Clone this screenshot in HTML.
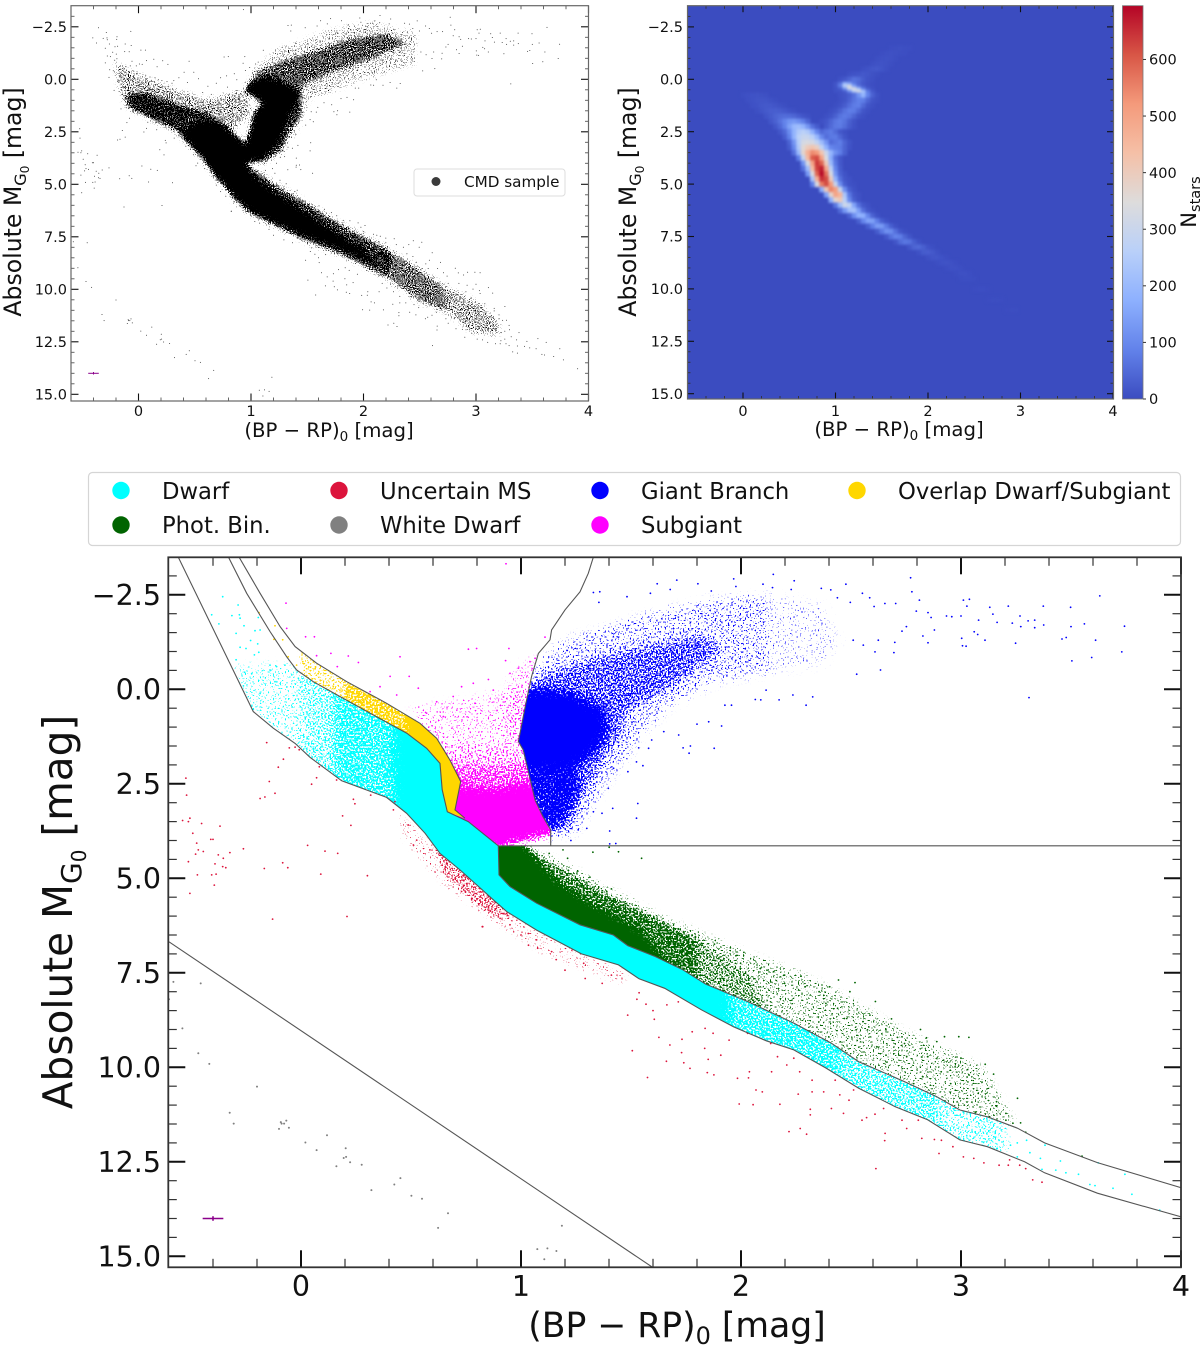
<!DOCTYPE html>
<html lang="en">
<head>
<meta charset="utf-8">
<title>Colour-magnitude diagrams</title>
<style>
html,body{margin:0;padding:0;background:#fff;}
svg{display:block;font-family:"DejaVu Sans","Liberation Sans",sans-serif;}
</style>
</head>
<body>
<svg id="fig" xmlns="http://www.w3.org/2000/svg" width="1200" height="1348" viewBox="0 0 1200 1348">
<defs id="defs">
<filter id="heatBlur" x="0" y="0" width="1200" height="500" filterUnits="userSpaceOnUse" color-interpolation-filters="sRGB"><feGaussianBlur stdDeviation="1.4"/></filter>
<clipPath id="clipA"><rect x="71" y="5.7" width="517.5" height="395.3"/></clipPath>
<clipPath id="clipB"><rect x="687.5" y="5.7" width="425.5" height="393.3"/></clipPath>
<clipPath id="clipC"><rect x="168.3" y="557.3" width="1012.7" height="710"/></clipPath>
<linearGradient id="cbarGrad" x1="0" y1="1" x2="0" y2="0">
<stop offset="0" stop-color="#3b4cc0"/><stop offset="0.125" stop-color="#6282ea"/><stop offset="0.25" stop-color="#8db0fe"/><stop offset="0.375" stop-color="#b9d0f9"/><stop offset="0.5" stop-color="#dddcdc"/><stop offset="0.625" stop-color="#f5c0a7"/><stop offset="0.75" stop-color="#f49a7b"/><stop offset="0.875" stop-color="#d85646"/><stop offset="1" stop-color="#b40426"/>
</linearGradient>
</defs>

<rect x="0" y="0" width="1200" height="1348" fill="#fff"/>

<g id="panelA"></g>
<g id="panelB"></g>
<g id="panelC"></g>

<!-- panel A labels -->
<text transform="rotate(-90 21 202)" x="21" y="202" text-anchor="middle" font-size="23.6" fill="#111">Absolute M<tspan dy="5" font-size="16">G</tspan><tspan dy="3" font-size="12">0</tspan><tspan dy="-8"> [mag]</tspan></text>
<text x="329" y="437" text-anchor="middle" font-size="19.7" fill="#111">(BP − RP)<tspan dy="4" font-size="13.5">0</tspan><tspan dy="-4"> [mag]</tspan></text>
<g>
<rect x="414" y="169" width="151" height="27" rx="3" fill="#fff" stroke="#ddd" stroke-width="1"/>
<circle cx="436" cy="181.5" r="4.5" fill="#3a3a3a"/>
<text x="464" y="187" font-size="15.2" fill="#111">CMD sample</text>
</g>

<!-- panel B labels -->
<text transform="rotate(-90 636 202)" x="636" y="202" text-anchor="middle" font-size="23.6" fill="#111">Absolute M<tspan dy="5" font-size="16">G</tspan><tspan dy="3" font-size="12">0</tspan><tspan dy="-8"> [mag]</tspan></text>
<text x="899" y="436" text-anchor="middle" font-size="19.7" fill="#111">(BP − RP)<tspan dy="4" font-size="13.5">0</tspan><tspan dy="-4"> [mag]</tspan></text>
<rect x="1122.5" y="5.7" width="20.5" height="393.3" fill="url(#cbarGrad)" stroke="#777" stroke-width="0.8"/>
<g id="cbarTicks"></g>
<text transform="rotate(-90 1196 202)" x="1196" y="202" text-anchor="middle" font-size="21" fill="#111">N<tspan dy="4" font-size="14.5">stars</tspan></text>

<!-- panel C labels -->
<text transform="rotate(-90 72 912)" x="72" y="912" text-anchor="middle" font-size="40.6" fill="#111">Absolute M<tspan dy="9" font-size="28">G</tspan><tspan dy="5" font-size="20">0</tspan><tspan dy="-14"> [mag]</tspan></text>
<text x="677" y="1337" text-anchor="middle" font-size="34.6" fill="#111">(BP − RP)<tspan dy="7" font-size="24">0</tspan><tspan dy="-7"> [mag]</tspan></text>

<g>
<rect x="88.5" y="472.5" width="1092" height="73" rx="4" fill="#fff" stroke="#d5d5d5" stroke-width="1.2"/>
<g font-size="22.7" fill="#111">
<circle cx="121" cy="490.5" r="8.7" fill="#00ffff"/>
<text x="162" y="499">Dwarf</text>
<circle cx="121" cy="525" r="8.7" fill="#006400"/>
<text x="162" y="533">Phot. Bin.</text>
<circle cx="339" cy="490.5" r="8.7" fill="#dc143c"/>
<text x="380" y="499">Uncertain MS</text>
<circle cx="339" cy="525" r="8.7" fill="#808080"/>
<text x="380" y="533">White Dwarf</text>
<circle cx="600" cy="490.5" r="8.7" fill="#0000ff"/>
<text x="641" y="499">Giant Branch</text>
<circle cx="600" cy="525" r="8.7" fill="#ff00ff"/>
<text x="641" y="533">Subgiant</text>
<circle cx="857" cy="490.5" r="8.7" fill="#ffd700"/>
<text x="898" y="499">Overlap Dwarf/Subgiant</text>
</g>
</g>
</svg>

<script>
/* ---------- axis tick values ---------- */
const xMajorTicks = [0,1,2,3,4];
const xMinorTicks = [-0.4,-0.2,0.2,0.4,0.6,0.8,1.2,1.4,1.6,1.8,2.2,2.4,2.6,2.8,3.2,3.4,3.6,3.8];
const yMajorTicks = [-2.5,0,2.5,5,7.5,10,12.5,15];
const yMinorTicks = [-3,-2,-1.5,-1,-0.5,0.5,1,1.5,2,3,3.5,4,4.5,5.5,6,6.5,7,8,8.5,9,9.5,10.5,11,11.5,12,13,13.5,14,14.5];
const yTickLabels = ["\u22122.5","0.0","2.5","5.0","7.5","10.0","12.5","15.0"];
const colorbarTicks = [0,100,200,300,400,500,600];
const errorBar = {color:-0.4, mag:14, xerr:0.047, yerr:0.06};

/* ---------- boundary lines (colour, magnitude) ---------- */
const lowerBoundary = [[-0.558,-3.5],[-0.217,0.59],[-0.126,1.03],[-0.027,1.43],[0.041,1.8],[0.185,2.42],[0.389,2.86],[0.48,3.28],[0.564,3.81],[0.632,4.34],[0.723,4.78],[0.874,5.57],[0.935,5.88],[1.071,6.37],[1.275,7.0],[1.443,7.29],[1.537,7.66],[1.653,7.91],[1.82,8.48],[1.967,8.93],[2.115,9.3],[2.24,9.54],[2.387,10.02],[2.534,10.55],[2.7,11.04],[2.848,11.39],[2.995,11.92],[3.12,12.1],[3.289,12.5],[3.38,12.79],[3.62,13.33],[4.02,13.99]];
const dwarfUpperBoundary = [[-0.33,-3.5],[-0.247,-2.54],[-0.141,-1.53],[-0.065,-0.86],[-0.02,-0.51],[0.056,-0.2],[0.177,0.19],[0.329,0.68],[0.48,1.16],[0.571,1.56],[0.632,1.96],[0.642,2.66],[0.665,3.24],[0.76,3.5],[0.897,4.14],[0.9,4.91],[0.95,5.22],[1.071,5.66],[1.268,6.23],[1.42,6.5],[1.485,6.78],[1.61,7.07],[1.736,7.42],[1.84,7.8],[2.03,8.26],[2.24,8.83],[2.41,9.36],[2.534,9.85],[2.744,10.38],[2.89,10.78],[2.995,11.13],[3.12,11.31],[3.257,11.61],[3.38,12.0],[3.62,12.52],[4.02,13.22]];
const overlapUpperBoundary = [[-0.282,-3.5],[-0.186,-2.54],[-0.095,-1.66],[-0.027,-1.13],[0.071,-0.69],[0.208,-0.2],[0.389,0.37],[0.541,0.9],[0.617,1.3],[0.677,1.87],[0.726,2.44],[0.7,3.19],[0.745,3.41]];
const giantBoundary = [[1.329,-3.5],[1.306,-3.07],[1.268,-2.58],[1.2,-2.1],[1.139,-1.57],[1.132,-1.31],[1.079,-0.95],[1.048,-0.34],[1.021,0.41],[0.988,1.38],[1.01,1.6],[1.064,2.93],[1.1,3.37],[1.135,3.72],[1.135,4.14]];
const horizontalBoundary = [[0.897,4.14],[4.02,4.14]];
const whiteDwarfBoundary = [[-0.6,6.68],[1.6,15.3]];

/* ---------- density regions, panel C (drawn stippled, clipped to the class boundaries) ---------- */
const cyanSparseRegion = [[-0.3,-0.6],[0,-0.6],[0,2.5],[-0.3,2]];
const cyanFairRegion = [[0,-0.6],[0.15,-0.6],[0.15,3],[0,2.5]];
const cyanMidRegion = [[0.15,-0.4],[0.42,0.3],[0.42,3.5],[0.15,3]];
const cyanCoreRegion = [[0.42,0.3],[0.7,1],[1,4],[1.5,6],[1.95,7.3],[1.95,9.5],[1.5,8.5],[1,7],[0.5,4],[0.42,3.5]];
const cyanDenseRegion = [[1.95,7.3],[2.45,8.8],[2.45,10.7],[1.95,9.5]];
const cyanLowRegion = [[2.45,8.8],[2.9,10],[2.9,12],[2.45,10.7]];
const cyanTailRegion = [[2.9,10],[3.2,11],[3.2,12.7],[2.9,12]];
const goldSparseRegion = [[0,-1.2],[0.2,-0.7],[0.2,0.8],[0,0.2]];
const goldMidRegion = [[0.2,-0.7],[0.48,-0.1],[0.48,1.6],[0.2,0.8]];
const goldCoreRegion = [[0.48,-0.1],[1,0],[1,4.5],[0.48,4.5]];
const magentaSparseRegion = [[0.5,0.5],[0.72,0.3],[0.9,0.1],[1.1,0.1],[1.1,1.5],[0.55,1.5]];
const magentaEdgeRegion = [[0.97,-0.6],[1.1,-0.9],[1.1,1.3],[0.93,1.3],[0.93,0.1]];
const magentaMidRegion = [[0.55,1.5],[1.1,1.5],[1.1,2.0],[0.55,2.0]];
const magentaFairRegion = [[0.55,2.0],[1.1,2.0],[1.1,2.45],[1.026,2.45],[0.874,2.65],[0.72,2.55],[0.55,2.9]];
const magentaCoreRegion = [[0.55,2.9],[0.72,2.55],[0.874,2.65],[1.026,2.45],[1.2,2.6],[1.3,3.6],[1.12,3.85],[1.0,4.03],[0.8,4.3],[0.55,3.6]];
const blueCoreRegion = [[0.85,0.2],[1.113,0.0],[1.23,0.1],[1.38,0.55],[1.39,1.12],[1.34,1.65],[1.23,2.1],[0.85,2.1]];
const blueDenseRegion = [[0.9,1.9],[1.25,2],[1.26,2.62],[1.22,3.15],[1.17,3.6],[1.1,4.0],[0.9,3.5]];
const blueMidRegion = [[1.054,-0.29],[1.191,-0.55],[1.348,-0.82],[1.584,-1.17],[1.82,-1.44],[1.918,-1.08],[1.82,-0.64],[1.682,-0.03],[1.486,0.59],[1.437,1.39],[1.368,1.91],[1.29,2.8],[1.211,3.77],[1.162,3.77],[0.9,0.24]];
const blueSparseRegion = [[1.074,-0.64],[1.191,-1.26],[1.584,-1.97],[1.839,-2.32],[2.12,-2.49],[2.12,-0.47],[1.878,-0.2],[1.682,0.42],[1.564,1.03],[1.486,1.74],[1.368,2.62],[1.29,3.41],[1.23,3.85],[1.162,3.77],[1.054,-0.29]];
const blueFarRegion = [[2.12,-2.5],[2.369,-2.23],[2.448,-1.35],[2.369,-0.64],[2.12,-0.47]];
const greenCoreRegion = [[0.85,4],[1.0,4],[1.15,5],[1.3,5.6],[1.55,6.4],[1.7,7.5],[1.0,6.5],[0.85,5]];
const greenDenseRegion = [[1.0,4.1],[1.35,5.3],[1.8,6.6],[1.8,8],[1.2,6]];
const greenMidRegion = [[1.8,6.6],[2.05,7.6],[2.15,8.8],[1.8,8]];
const greenSparseRegion = [[1.1,4.3],[1.6,5.9],[2.0,6.9],[2.35,7.7],[2.7,8.9],[3.1,10],[3.25,11.5],[2.8,11],[2.2,9.2],[1.7,7.5]];
const redFringeRegion = [[0.45,3.3],[0.72,4.78],[0.94,5.88],[1.3,7.05],[1.5,7.55],[1.45,7.8],[1.1,7],[0.88,6.2],[0.65,5.2],[0.45,3.9]];
const redEdgeRegion = [[0.6,4.0],[0.9,5.6],[0.98,6.1],[0.85,5.95],[0.65,4.9]];

/* ---------- density regions, panel A ---------- */
const sampleCoreRegion = [[0.36,2.58],[0.53,2.0],[0.7,2.0],[0.83,2.5],[0.95,3.06],[1.0,2.2],[1.02,1.62],[1.1,1.15],[0.96,0.6],[0.95,0.35],[1.03,-0.05],[1.17,-0.1],[1.32,0.2],[1.46,0.7],[1.38,1.3],[1.3,2.26],[1.23,3.22],[1.094,3.85],[0.957,4.01],[1.026,4.65],[1.231,5.45],[1.504,6.4],[1.778,7.36],[1.983,8.07],[2.15,8.85],[2.051,8.71],[1.778,8.07],[1.504,7.52],[1.231,6.88],[0.991,6.24],[0.821,5.45],[0.684,4.65],[0.581,3.85],[0.444,3.06]];
const sampleUpperMsRegion = [[-0.103,0.75],[0.068,0.67],[0.376,1.31],[0.615,1.62],[0.821,2.5],[0.376,2.58],[0.137,1.94],[-0.103,1.31]];
const sampleHaloRegion = [[-0.205,-0.76],[-0.034,-0.29],[0.274,0.43],[0.615,0.99],[0.957,0.48],[0.991,1.62],[0.821,2.5],[0.615,1.62],[0.137,1.94],[-0.137,0.99],[-0.171,0.35]];
const sampleRgbHaloRegion = [[0.95,3.6],[1.0,2.4],[1.05,1.5],[1.45,1.0],[1.45,1.7],[1.33,2.6],[1.28,3.4],[1.1,4.0]];
const sampleGiantRegion = [[0.991,-0.21],[1.299,-0.92],[1.607,-1.4],[1.846,-1.88],[2.188,-2.2],[2.393,-1.72],[2.051,-0.92],[1.778,-0.45],[1.504,0.19],[1.402,0.67],[1.162,0.03]];
const sampleGiantHaloRegion = [[0.991,-0.21],[1.231,-1.4],[1.709,-2.36],[2.051,-2.68],[2.462,-2.2],[2.462,-0.76],[2.017,-0.05],[1.504,0.99],[1.402,2.58],[1.265,3.22],[1.197,3.22],[1.436,0.75]];
const sampleMsRegion = [[0.957,4.01],[1.162,4.81],[1.504,5.92],[1.846,7.04],[2.188,7.99],[2.25,8.6],[2.188,9.4],[1.778,8.3],[1.504,7.75],[1.231,7.05],[0.991,6.4],[0.821,5.6]];
const sampleMsMidRegion = [[2.188,7.99],[2.462,8.9],[2.7,9.8],[2.75,11.1],[2.5,10.6],[2.188,9.4]];
const sampleLowMsRegion = [[2.7,9.8],[3.0,10.6],[3.2,11.5],[3.2,12.2],[2.95,12],[2.75,11.1]];

/* ---------- individually read stars (colour, magnitude) ---------- */
const whiteDwarfStars = [[-0.58,7.74],[-0.456,7.78],[-0.6,8.2],[-0.539,8.97],[-0.467,9.63],[-0.417,9.91],[-0.2,10.51],[-0.324,11.2],[-0.306,11.49],[-0.092,11.45],[-0.088,11.49],[-0.077,11.49],[-0.067,11.41],[-0.055,11.6],[-0.1,11.63],[0.02,11.99],[0.071,12.19],[0.118,11.8],[0.203,12.14],[0.205,12.37],[0.194,12.4],[0.223,12.51],[0.161,12.62],[0.276,12.58],[0.452,12.93],[0.424,13.1],[0.32,13.25],[0.502,13.4],[0.55,13.48],[0.668,13.86],[0.623,14.25],[1.186,14.19],[1.074,14.81],[1.12,14.79],[1.161,14.86],[1.106,15.08]];
const uncertainStars = [[-0.523,2.35],[-0.52,2.8],[-0.538,3.47],[-0.505,3.41],[-0.512,3.5],[-0.452,3.55],[-0.492,3.81],[-0.368,3.62],[-0.474,4.07],[-0.467,4.25],[-0.479,4.36],[-0.444,4.29],[-0.41,3.97],[-0.4,3.97],[-0.323,4.32],[-0.262,4.22],[-0.512,4.56],[-0.376,4.38],[-0.353,4.47],[-0.391,4.62],[-0.356,4.69],[-0.342,4.72],[-0.471,4.91],[-0.406,4.91],[-0.386,4.89],[-0.394,5.18],[-0.505,5.4],[-0.167,4.74],[-0.083,4.59],[-0.06,4.72],[0.09,4.89],[0.109,4.28],[0.167,4.34],[0.03,4.13],[0.302,4.93],[-0.129,6.08],[0.209,6.01],[0.826,6.28],[-0.156,1.41],[-0.053,1.55],[-0.027,1.53],[-0.008,1.6],[-0.08,1.85],[-0.103,2.06],[-0.144,2.44],[-0.186,2.89],[-0.164,2.85],[-0.118,2.75],[0.071,2.34],[0.048,2.51],[0.083,2.05],[0.162,2.4],[0.189,3.35],[0.227,3.6],[0.238,2.91],[0.245,3.03],[0.317,2.8],[0.42,3.19],[0.427,2.97],[0.488,3.59],[0.511,4.12],[0.526,3.99],[0.586,4.25],[0.647,4.43],[0.662,4.6],[0.692,5.04],[0.73,4.96],[0.73,5.35],[0.776,5.57],[0.852,5.49],[0.852,5.84],[0.905,6.06],[0.95,6.23],[1.033,6.46],[1.071,6.63],[0.824,6.28],[0.897,6.02],[1.0,6.5],[1.034,6.77],[1.076,6.85],[1.139,6.94],[1.16,7.15],[1.2,7.43],[1.292,7.65],[1.285,7.25],[1.369,7.78],[1.411,7.56],[1.485,8.62],[1.527,8.2],[1.537,8.03],[1.568,8.33],[1.6,8.5],[1.606,8.73],[1.663,8.35],[1.715,8.27],[1.506,9.56],[1.627,9.21],[1.575,10.27],[1.661,9.84],[1.677,9.41],[1.732,9.26],[1.73,9.61],[1.74,9.88],[1.768,10.03],[1.778,9.06],[1.837,8.97],[1.835,9.5],[1.851,9.79],[1.873,9.1],[1.908,9.68],[1.946,9.28],[1.847,10.14],[1.877,10.2],[1.984,10.29],[2.038,10.12],[2.034,10.28],[2.068,10.6],[2.097,10.65],[1.992,10.97],[2.055,10.99],[2.177,10.98],[2.03,9.1],[2.135,9.37],[2.166,9.72],[2.24,9.76],[2.208,9.94],[2.139,10.12],[2.267,10.12],[2.323,10.34],[2.323,10.65],[2.26,10.71],[2.315,11.11],[2.315,11.26],[2.218,11.7],[2.269,11.62],[2.298,11.77],[2.376,10.65],[2.449,10.73],[2.491,10.87],[2.411,11.09],[2.466,11.22],[2.428,10.34],[2.512,10.6],[2.55,11.4],[2.571,11.33],[2.609,11.24],[2.648,11.09],[2.655,11.75],[2.653,11.94],[2.613,12.68],[2.732,11.4],[2.753,11.62],[2.806,11.4],[2.822,11.88],[2.879,11.91],[2.911,11.93],[2.9,12.28],[2.963,12.1],[3.011,12.37],[3.058,12.41],[3.104,12.53],[3.173,12.59],[3.221,12.45],[3.215,12.59],[3.267,12.59],[3.294,12.68],[3.326,12.98],[3.368,13.04]];
const binaryStars = [[1.548,4.47],[1.401,4.18],[1.443,4.3],[1.327,4.31],[1.212,4.47],[1.128,4.34],[1.191,4.25],[1.258,4.81],[1.313,4.97],[1.411,5.28],[1.39,5.35],[1.474,5.8],[1.548,5.97],[1.604,6.03],[1.652,6.19],[1.715,6.35],[1.762,6.5],[1.82,6.72],[1.879,6.74],[1.952,6.84],[2.013,6.96],[1.977,7.05],[1.998,7.25],[2.089,7.38],[2.118,7.43],[2.149,7.47],[2.198,7.56],[2.273,7.59],[2.135,7.74],[2.198,7.78],[2.292,7.87],[2.355,8.0],[2.443,7.69],[2.518,7.76],[2.403,7.87],[2.495,8.0],[2.386,8.31],[2.439,8.44],[2.611,8.26],[2.586,8.62],[2.684,8.72],[2.554,8.79],[2.47,8.71],[2.523,9.01],[2.575,9.01],[2.659,9.01],[2.711,9.21],[2.816,9.0],[2.843,9.22],[2.89,9.32],[2.925,9.19],[2.99,9.19],[3.036,9.21],[2.743,9.37],[2.617,9.46],[2.659,9.68],[2.753,9.72],[2.848,9.72],[2.921,9.81],[3.0,9.76],[3.11,9.92],[3.03,10.06],[3.148,10.18],[2.91,10.12],[2.973,9.99],[3.036,10.2],[2.827,10.25],[2.953,10.43],[2.785,10.43],[3.078,10.69],[3.162,10.91],[3.162,11.03],[3.257,10.82],[3.204,11.22],[2.995,10.82],[3.015,11.0],[3.068,11.18],[3.13,11.31],[3.204,11.4],[3.236,11.48],[3.271,11.47],[3.294,11.72],[3.55,12.35]];
const giantStars = [[1.329,-2.56],[1.358,-2.58],[1.354,-2.3],[1.482,-2.45],[1.588,-2.54],[1.619,-2.79],[1.678,-2.64],[1.708,-2.89],[1.804,-2.79],[1.865,-2.6],[1.967,-2.92],[1.977,-2.72],[2.1,-2.78],[2.147,-3.04],[2.143,-2.69],[2.242,-2.87],[2.228,-2.64],[2.365,-2.67],[2.408,-2.63],[2.477,-2.78],[2.552,-2.54],[2.585,-2.42],[2.771,-2.95],[2.777,-2.58],[2.811,-2.36],[2.703,-2.27],[2.654,-2.27],[2.605,-2.19],[2.497,-2.3],[2.438,-2.42],[2.797,-2.07],[2.85,-2.03],[2.864,-1.9],[2.934,-1.94],[2.958,-1.92],[3.011,-2.36],[3.038,-2.38],[3.027,-2.2],[3.0,-1.94],[3.08,-1.83],[3.131,-2.17],[3.145,-1.99],[3.164,-1.77],[3.215,-2.2],[3.268,-1.94],[3.233,-1.75],[3.272,-1.66],[3.305,-1.81],[3.335,-1.83],[3.335,-1.63],[3.376,-1.7],[3.374,-2.2],[3.498,-2.17],[3.5,-1.66],[3.561,-1.73],[3.631,-2.47],[3.743,-1.67],[3.612,-1.3],[3.478,-1.37],[3.459,-1.33],[3.248,-1.22],[3.109,-1.3],[3.076,-1.45],[3.06,-1.52],[3.003,-1.35],[3.007,-1.15],[3.023,-1.14],[2.879,-1.57],[2.85,-1.23],[2.827,-1.41],[2.752,-1.66],[2.732,-1.54],[2.699,-1.24],[2.695,-0.97],[2.624,-1.3],[2.609,-0.99],[2.634,-0.51],[2.526,-0.4],[2.556,-1.17],[2.51,-1.3],[3.731,-0.99],[3.594,-0.84],[3.504,-0.75],[3.309,0.22],[2.326,0.2],[2.296,0.42],[2.236,0.15],[2.173,0.28],[2.09,0.28],[2.065,0.27],[2.114,0.02],[1.957,0.42],[1.927,0.42],[1.912,0.97],[1.853,0.86],[1.8,0.92],[1.878,1.56],[1.77,1.5],[1.737,1.55],[1.764,1.69],[1.717,1.21],[1.649,1.12],[1.594,1.34],[1.535,1.55],[1.58,1.56],[1.525,1.92],[1.554,2.02],[1.486,2.18],[1.421,2.09],[1.397,2.62],[1.531,3.02],[1.525,3.41],[1.417,3.15],[1.368,3.28],[1.329,3.24],[1.299,3.68],[1.403,3.75],[1.26,3.72],[1.227,4.0],[1.403,4.09],[1.431,4.08]];
const subgiantStars = [[0.932,-3.32],[-0.068,-2.28],[-0.065,-1.61],[0.021,-1.39],[0.061,-1.39],[0.071,-0.89],[0.136,-0.95],[0.215,-0.88],[0.165,-0.6],[0.261,-0.71],[0.45,-0.86],[0.405,-0.34],[0.492,-0.34],[0.761,-1.06],[0.798,-1.08],[0.945,-1.08],[0.93,-0.76],[0.73,-0.07],[0.783,-0.16],[0.852,-0.26],[0.533,-0.03],[0.435,0.15],[0.314,0.06],[0.359,-0.07],[0.617,0.33],[0.571,0.63],[0.647,0.72],[1.109,-1.38],[1.041,-0.73],[1.064,-0.82],[0.95,-0.42],[0.988,-0.56],[0.692,0.19],[0.791,0.37],[0.874,0.02]];
const dwarfStars = [[-0.356,-2.45],[-0.286,-2.23],[-0.406,-1.97],[-0.373,-1.73],[-0.314,-1.95],[-0.28,-1.97],[-0.277,-1.88],[-0.194,-1.9],[-0.295,-1.48],[-0.259,-1.68],[-0.209,-1.55],[-0.186,-1.57],[-0.229,-1.29],[-0.277,-1.11],[-0.25,-1.08],[-0.197,-1.2],[-0.192,-0.98],[-0.212,-0.91],[-0.295,-0.78],[-0.256,-0.45],[-0.224,-0.41],[-0.262,-0.09],[-0.186,0.11],[-0.141,-0.64],[-0.111,-0.6],[-0.073,-0.64],[-0.141,-0.51],[-0.118,-0.2],[-0.042,-0.38],[-0.012,-0.29],[-0.217,0.53],[3.183,11.66],[3.173,11.93],[3.225,12.06],[3.256,12.0],[3.298,11.93],[3.382,12.06],[3.313,12.26],[3.361,12.41],[3.256,12.37],[3.452,12.48],[3.368,12.7],[3.431,12.72],[3.477,12.79],[3.534,12.83],[3.624,12.53],[3.745,12.83],[3.586,13.1],[3.609,13.13],[3.691,13.2],[3.777,13.36],[3.903,13.78]];
const overlapStars = [[-0.191,-2.03],[-0.118,-1.68],[-0.083,-1.31],[-0.123,-1.32],[-0.058,-0.86],[0.033,-0.71],[-0.02,-0.64],[0.008,-0.73],[0.064,-0.19],[0.102,-0.11],[0.147,-0.07],[0.177,0.02],[0.208,0.06],[0.253,0.11],[0.268,0.33],[0.298,0.19]];

/* ---------- density histogram: magnitude, first colour, counts in 0.05 colour bins ---------- */
const heatRowMags = [-1.5,-1.25,-1,-0.75,-0.5,-0.25,0,0.25,0.375,0.5,0.625,0.75,0.75,1,1,1.25,1.25,1.5,1.5,1.75,1.75,2,2,2.25,2.25,2.5,2.75,3,3.25,3.5,3.75,4,4.25,4.5,4.75,5,5.25,5.5,5.75,6,6.25,6.5,6.75,7,7.25,7.5,7.75,8,8.25,8.5,8.75,9,9.25,9.5,10,10.5,11];
const heatRowStarts = [1.6,1.5,1.45,1.4,1.3,1.15,1.05,1.0,1.0,1.0,1.05,1.05,0,1.05,0.05,1.0,0.1,0.95,0.15,0.9,0.25,0.85,0.3,0.9,0.35,0.4,0.45,0.5,0.5,0.55,0.6,0.65,0.65,0.7,0.75,0.75,0.85,0.9,0.95,1.0,1.05,1.15,1.25,1.35,1.45,1.55,1.65,1.8,1.9,2.0,2.1,2.2,2.3,2.35,2.5,2.65,2.85];
const heatRowCounts = [[4,5,6,5,4],[4,6,8,6,5,4],[5,8,10,8,5],[6,10,12,9,5],[6,12,18,20,14,6],[8,12,15,20,16,9,5],[10,20,40,60,50,25,12,6],[15,60,190,150,70,40,18,8,4],[15,80,270,330,150,60,25,8],[10,30,130,320,340,220,80,25,8],[12,30,120,270,340,230,75,20],[8,15,30,60,120,190,90,35,10],[5,8,10,11,9,6],[6,14,35,65,85,80,42,15,6],[6,10,14,15,14,9,5],[5,12,28,55,78,82,46,16,6],[8,12,18,21,20,15,9,5],[6,14,34,62,80,76,45,16,6],[7,14,22,28,30,26,20,12,6],[6,14,34,62,76,66,40,14,6],[14,25,38,48,52,50,42,28,15,8],[8,18,42,68,80,62,32,12],[18,35,60,90,120,130,110,80,40],[22,48,72,75,54,26,10],[18,45,85,145,195,210,185,125,60,25],[18,45,105,185,245,265,245,175,95,46,64,75,50,20,8],[28,85,185,265,295,295,265,195,100,55,72,76,44,14],[38,125,255,325,335,325,275,205,125,50,66,80,40,14],[25,100,240,360,400,420,390,280,180,95,80,74,38,12],[60,200,370,470,540,520,420,300,190,115,80,34],[80,280,450,600,620,500,340,170,55,18],[120,330,500,640,590,400,200,70,20],[60,210,440,630,670,490,270,90,25],[130,340,590,690,570,330,120,35,12],[230,470,650,620,400,180,60,18,8],[80,330,560,620,520,290,110,30,10,5],[170,410,550,510,290,110,30,10],[150,370,500,460,230,70,20,8],[180,370,410,260,100,30,10],[70,200,310,280,150,60,20,8],[50,130,215,225,140,55,18,6],[35,110,180,175,95,35,10],[32,95,150,145,80,30,10],[30,80,135,130,75,30,8],[25,70,115,105,55,18,5],[20,60,90,80,40,14],[15,50,70,62,30,10],[18,40,48,32,12,5],[10,25,28,20,8],[8,15,16,10,4],[5,10,11,8,4],[4,8,8,5],[3,6,6,4],[3,5,5,3],[2,4,4,2],[2,3,3,2],[2,3,3]];
const heatColorStep = 0.05;
const heatMagStep = 0.25;
const heatMax = 695;

/* ---------- axis functions ---------- */
const xA = c => 138.5 + 112.5 * c;
const yA = m => 79.3 + 21 * m;
const xB = c => 743 + 92.5 * c;
const yB = m => 79.3 + 20.96 * m;
const xC = c => 301 + 220 * c;
const yC = m => 689.3 + 37.8 * m;
const yCbar = v => 399 - 393.3 * v / heatMax;

const SVG_NS = 'http://www.w3.org/2000/svg';
function mk(tag, parent) {
  const el = document.createElementNS(SVG_NS, tag);
  parent.appendChild(el);
  return el;
}
function pointList(pts, xf, yf) {
  return pts.map(p => xf(p[0]).toFixed(1) + ',' + yf(p[1]).toFixed(1)).join(' ');
}

/* stipple texture: density of specks follows the blurred alpha of the region group */
function stippleFilter(id, color, blur, freq, seed, x, y, w, h) {
  document.getElementById('defs').insertAdjacentHTML('beforeend',
    '<filter xmlns="http://www.w3.org/2000/svg" id="' + id + '" filterUnits="userSpaceOnUse" x="' + x + '" y="' + y + '" width="' + w + '" height="' + h + '" color-interpolation-filters="sRGB">' +
    '<feGaussianBlur in="SourceAlpha" stdDeviation="' + blur + '" result="b"/>' +
    '<feTurbulence type="fractalNoise" baseFrequency="' + freq + '" numOctaves="1" seed="' + seed + '" result="t"/>' +
    '<feColorMatrix in="t" values="0 0 0 0 0 0 0 0 0 0 0 0 0 0 0 2.5 0 0 0 -0.75" result="n"/>' +
    '<feComposite in="b" in2="n" operator="arithmetic" k1="0" k2="1.1" k3="1" k4="-1" result="s"/>' +
    '<feComponentTransfer in="s" result="m"><feFuncA type="linear" slope="10"/></feComponentTransfer>' +
    '<feFlood flood-color="' + color + '"/>' +
    '<feComposite in2="m" operator="in"/>' +
    '</filter>');
}
function addClip(id, pts, xf, yf) {
  const cp = mk('clipPath', document.getElementById('defs'));
  cp.setAttribute('id', id);
  const poly = mk('polygon', cp);
  poly.setAttribute('points', pointList(pts, xf, yf));
}
function stippleGroup(parent, clipId, filterId, name) {
  const outer = mk('g', parent);
  
  
  if (clipId) outer.setAttribute('clip-path', 'url(#' + clipId + ')');
  const inner = mk('g', outer);
  
  
  inner.setAttribute('filter', 'url(#' + filterId + ')');
  return inner;
}
function drawRegion(parent, pts, xf, yf, density, name) {
  const el = mk('polygon', parent);
  
  
  el.setAttribute('points', pointList(pts, xf, yf));
  el.setAttribute('fill', '#000');
  el.setAttribute('fill-opacity', density);
}
function drawLine(parent, pts, xf, yf, color, width, name) {
  const el = mk('polyline', parent);
  
  
  el.setAttribute('points', pointList(pts, xf, yf));
  el.setAttribute('fill', 'none');
  el.setAttribute('stroke', color);
  el.setAttribute('stroke-width', width);
}
function drawStars(parent, pts, xf, yf, color, r, name) {
  pts.forEach(p => {
    const el = mk('circle', parent);
    
    
    el.setAttribute('cx', xf(p[0]).toFixed(1));
    el.setAttribute('cy', yf(p[1]).toFixed(1));
    el.setAttribute('r', r);
    el.setAttribute('fill', color);
  });
}
function seg(parent, x1, y1, x2, y2, color, width, name) {
  const el = mk('line', parent);
  
  
  el.setAttribute('x1', x1);
  el.setAttribute('y1', y1);
  el.setAttribute('x2', x2);
  el.setAttribute('y2', y2);
  el.setAttribute('stroke', color);
  el.setAttribute('stroke-width', width);
}
function label(parent, x, y, str, anchor, size, name) {
  const el = mk('text', parent);
  
  
  el.setAttribute('x', x);
  el.setAttribute('y', y);
  el.setAttribute('text-anchor', anchor);
  el.setAttribute('font-size', size);
  el.setAttribute('fill', '#111');
  el.textContent = str;
}
function drawAxes(parent, xf, yf, box, opt) {
  const L = box[0], R = box[1], T = box[2], B = box[3];
  xMinorTicks.forEach(c => {
    const x = xf(c);
    seg(parent, x, B, x, B - opt.minor, opt.tickColor, opt.minorW, 'x-minor-tick');
    seg(parent, x, T, x, T + opt.minor, opt.tickColor, opt.minorW, 'x-minor-tick-top');
  });
  yMinorTicks.forEach(m => {
    const y = yf(m);
    seg(parent, L, y, L + opt.minor, y, opt.tickColor, opt.minorW, 'y-minor-tick');
    seg(parent, R, y, R - opt.minor, y, opt.tickColor, opt.minorW, 'y-minor-tick-right');
  });
  xMajorTicks.forEach(c => {
    const x = xf(c);
    seg(parent, x, B, x, B - opt.major, '#111', opt.majorW, 'x-major-tick');
    seg(parent, x, T, x, T + opt.major, '#111', opt.majorW, 'x-major-tick-top');
    label(parent, x, opt.xLabelY, String(c), 'middle', opt.font, 'x-tick-label');
  });
  yMajorTicks.forEach((m, i) => {
    const y = yf(m);
    seg(parent, L, y, L + opt.major, y, '#111', opt.majorW, 'y-major-tick');
    seg(parent, R, y, R - opt.major, y, '#111', opt.majorW, 'y-major-tick-right');
    label(parent, opt.yLabelX, y + opt.font * 0.36, yTickLabels[i], 'end', opt.font, 'y-tick-label');
  });
  const frame = mk('rect', parent);
  
  
  frame.setAttribute('x', L);
  frame.setAttribute('y', T);
  frame.setAttribute('width', R - L);
  frame.setAttribute('height', B - T);
  frame.setAttribute('fill', 'none');
  frame.setAttribute('stroke', opt.spine);
  frame.setAttribute('stroke-width', opt.spineW);
}
function drawErrorBar(parent, xf, yf, width) {
  const color = '#8b008b';
  seg(parent, xf(errorBar.color - errorBar.xerr), yf(errorBar.mag), xf(errorBar.color + errorBar.xerr), yf(errorBar.mag), color, width, 'median-error-bar-x');
  seg(parent, xf(errorBar.color), yf(errorBar.mag - errorBar.yerr), xf(errorBar.color), yf(errorBar.mag + errorBar.yerr), color, width, 'median-error-bar-y');
}

/* ---------- colour map ---------- */
const mapStops = [[59,76,192],[98,130,234],[141,176,254],[185,208,249],[221,220,220],[245,192,167],[244,154,123],[216,86,70],[180,4,38]];
function coolwarm(v) {
  const t = Math.max(0, Math.min(1, v / heatMax)) * (mapStops.length - 1);
  const i = Math.min(mapStops.length - 2, Math.floor(t));
  const f = t - i;
  const a = mapStops[i], b = mapStops[i + 1];
  return 'rgb(' + [0, 1, 2].map(k => Math.round(a[k] + (b[k] - a[k]) * f)).join(',') + ')';
}

/* ---------- stipple filters ---------- */
stippleFilter('stipSample', '#000', 2.5, 0.95, 4, 60, 0, 540, 410);
stippleFilter('stipCyan', '#00ffff', 5, 0.6, 7, 160, 550, 1030, 725);
stippleFilter('stipBlue', '#0000ff', 4.5, 0.6, 9, 160, 550, 1030, 725);
stippleFilter('stipMagenta', '#ff00ff', 4, 0.6, 12, 160, 550, 1030, 725);
stippleFilter('stipGreen', '#006400', 3, 0.6, 15, 160, 550, 1030, 725);
stippleFilter('stipGold', '#ffd700', 2.5, 0.6, 18, 160, 550, 1030, 725);
stippleFilter('stipRed', '#dc143c', 1.5, 0.6, 21, 160, 550, 1030, 725);

/* ---------- class clip regions from the boundary arrays ---------- */
addClip('clipDwarf', lowerBoundary.concat(dwarfUpperBoundary.slice().reverse()), xC, yC);
addClip('clipOverlap', overlapUpperBoundary.concat(dwarfUpperBoundary.slice(0, 13).reverse()), xC, yC);
addClip('clipSubgiant', overlapUpperBoundary.concat(dwarfUpperBoundary.slice(12, 15), giantBoundary.slice().reverse()), xC, yC);
addClip('clipGiant', giantBoundary.concat(horizontalBoundary.slice(1), [[4.02,-3.5]]), xC, yC);
addClip('clipBinary', horizontalBoundary.slice().reverse().concat(dwarfUpperBoundary.slice(14)), xC, yC);

/* ---------- panel A ---------- */
(function () {
  const root = document.getElementById('panelA');
  const data = mk('g', root);
  
  
  data.setAttribute('clip-path', 'url(#clipA)');
  const layer = stippleGroup(data, null, 'stipSample', 'sample-regions');
  drawRegion(layer, sampleGiantHaloRegion, xA, yA, 0.2, 'sample-giant-halo');
  drawRegion(layer, sampleHaloRegion, xA, yA, 0.36, 'sample-turnoff-halo');
  drawRegion(layer, sampleUpperMsRegion, xA, yA, 0.76, 'sample-upper-main-sequence');
  drawRegion(layer, sampleGiantRegion, xA, yA, 0.5, 'sample-giant-branch');
  drawRegion(layer, sampleRgbHaloRegion, xA, yA, 0.65, 'sample-red-giant-branch-halo');
  drawRegion(layer, sampleMsRegion, xA, yA, 0.68, 'sample-main-sequence-halo');
  drawRegion(layer, sampleMsMidRegion, xA, yA, 0.52, 'sample-mid-main-sequence');
  drawRegion(layer, sampleLowMsRegion, xA, yA, 0.36, 'sample-lower-main-sequence');
  drawRegion(layer, sampleCoreRegion, xA, yA, 1, 'sample-dense-core');
  [whiteDwarfStars, uncertainStars, binaryStars, giantStars, subgiantStars, dwarfStars, overlapStars].forEach(list => {
    drawStars(data, list, xA, yA, '#333', 0.5, 'sample-star');
  });
  drawErrorBar(root, xA, yA, 1);
  drawAxes(root, xA, yA, [71, 588.5, 5.7, 401], {
    minor: 3.5, major: 7.5, minorW: 0.9, majorW: 1.1, tickColor: '#555', spine: '#666', spineW: 1.2,
    font: 14.5, xLabelY: 416, yLabelX: 67
  });
})();

/* ---------- panel B ---------- */
(function () {
  const root = document.getElementById('panelB');
  const bg = mk('rect', root);
  
  
  bg.setAttribute('x', 687.5);
  bg.setAttribute('y', 5.7);
  bg.setAttribute('width', 425.5);
  bg.setAttribute('height', 393.3);
  bg.setAttribute('fill', '#3b4cc0');
  const clip = mk('g', root);
  
  
  clip.setAttribute('clip-path', 'url(#clipB)');
  const cells = mk('g', clip);
  
  
  cells.setAttribute('filter', 'url(#heatBlur)');
  heatRowMags.forEach((m, r) => {
    heatRowCounts[r].forEach((v, i) => {
      const c = heatRowStarts[r] + i * heatColorStep;
      const cell = mk('rect', cells);
      
      
      cell.setAttribute('x', xB(c - heatColorStep / 2).toFixed(1));
      cell.setAttribute('y', yB(m - heatMagStep / 2).toFixed(1));
      cell.setAttribute('width', (xB(heatColorStep) - xB(0) + 0.4).toFixed(1));
      cell.setAttribute('height', (yB(heatMagStep) - yB(0) + 0.4).toFixed(1));
      cell.setAttribute('fill', coolwarm(v));
    });
  });
  drawAxes(root, xB, yB, [687.5, 1113.5, 5.7, 399], {
    minor: 3, major: 6.5, minorW: 0.9, majorW: 1.1, tickColor: '#333', spine: '#666', spineW: 1.2,
    font: 14.5, xLabelY: 416, yLabelX: 683
  });
  const cb = document.getElementById('cbarTicks');
  colorbarTicks.forEach(v => {
    seg(cb, 1143, yCbar(v), 1146, yCbar(v), '#333', 1, 'colorbar-tick');
    label(cb, 1149, yCbar(v) + 5.2, String(v), 'start', 14.5, 'colorbar-tick-label');
  });
})();

/* ---------- panel C ---------- */
(function () {
  const root = document.getElementById('panelC');
  const data = mk('g', root);
  
  
  data.setAttribute('clip-path', 'url(#clipC)');

  const cyan = '#00ffff', green = '#006400', red = '#dc143c', blue = '#0000ff', mag = '#ff00ff', gold = '#ffd700', gray = '#808080';

  const redLayer = stippleGroup(data, null, 'stipRed', 'uncertain-ms-fringe');
  drawRegion(redLayer, redFringeRegion, xC, yC, 0.1, 'uncertain-fringe');
  drawRegion(redLayer, redEdgeRegion, xC, yC, 0.35, 'uncertain-edge');

  const blueLayer = stippleGroup(data, 'clipGiant', 'stipBlue', 'giant-branch-cloud');
  drawRegion(blueLayer, blueFarRegion, xC, yC, 0.08, 'giant-branch-far');
  drawRegion(blueLayer, blueSparseRegion, xC, yC, 0.22, 'giant-branch-sparse');
  drawRegion(blueLayer, blueMidRegion, xC, yC, 0.38, 'giant-branch-mid');
  drawRegion(blueLayer, blueDenseRegion, xC, yC, 0.78, 'giant-branch-dense');
  drawRegion(blueLayer, blueCoreRegion, xC, yC, 1, 'giant-branch-core');

  const magLayer = stippleGroup(data, 'clipSubgiant', 'stipMagenta', 'subgiant-cloud');
  drawRegion(magLayer, magentaSparseRegion, xC, yC, 0.16, 'subgiant-sparse');
  drawRegion(magLayer, magentaEdgeRegion, xC, yC, 0.16, 'subgiant-edge');
  drawRegion(magLayer, magentaMidRegion, xC, yC, 0.3, 'subgiant-mid');
  drawRegion(magLayer, magentaFairRegion, xC, yC, 0.52, 'subgiant-fair');
  drawRegion(magLayer, magentaCoreRegion, xC, yC, 1, 'subgiant-core');

  const greenLayer = stippleGroup(data, 'clipBinary', 'stipGreen', 'phot-bin-cloud');
  drawRegion(greenLayer, greenSparseRegion, xC, yC, 0.2, 'phot-bin-sparse');
  drawRegion(greenLayer, greenDenseRegion, xC, yC, 0.56, 'phot-bin-dense');
  drawRegion(greenLayer, greenMidRegion, xC, yC, 0.3, 'phot-bin-mid');
  drawRegion(greenLayer, greenCoreRegion, xC, yC, 1, 'phot-bin-core');

  const cyanLayer = stippleGroup(data, 'clipDwarf', 'stipCyan', 'dwarf-cloud');
  drawRegion(cyanLayer, cyanSparseRegion, xC, yC, 0.2, 'dwarf-sparse');
  drawRegion(cyanLayer, cyanFairRegion, xC, yC, 0.38, 'dwarf-fair');
  drawRegion(cyanLayer, cyanMidRegion, xC, yC, 0.6, 'dwarf-mid');
  drawRegion(cyanLayer, cyanCoreRegion, xC, yC, 1, 'dwarf-core');
  drawRegion(cyanLayer, cyanDenseRegion, xC, yC, 0.6, 'dwarf-dense');
  drawRegion(cyanLayer, cyanLowRegion, xC, yC, 0.46, 'dwarf-low');
  drawRegion(cyanLayer, cyanTailRegion, xC, yC, 0.3, 'dwarf-tail');

  const goldLayer = stippleGroup(data, 'clipOverlap', 'stipGold', 'overlap-cloud');
  drawRegion(goldLayer, goldSparseRegion, xC, yC, 0.3, 'overlap-sparse');
  drawRegion(goldLayer, goldMidRegion, xC, yC, 0.62, 'overlap-mid');
  drawRegion(goldLayer, goldCoreRegion, xC, yC, 1, 'overlap-core');

  drawStars(data, whiteDwarfStars, xC, yC, gray, 1, 'white-dwarf-star');
  drawStars(data, uncertainStars, xC, yC, red, 0.9, 'uncertain-ms-star');
  drawStars(data, binaryStars, xC, yC, green, 0.9, 'phot-bin-star');
  drawStars(data, giantStars, xC, yC, blue, 0.9, 'giant-branch-star');
  drawStars(data, subgiantStars, xC, yC, mag, 0.9, 'subgiant-star');
  drawStars(data, dwarfStars, xC, yC, cyan, 0.9, 'dwarf-star');
  drawStars(data, overlapStars, xC, yC, gold, 0.9, 'overlap-star');

  const lineColor = '#555';
  drawLine(data, lowerBoundary, xC, yC, lineColor, 1.1, 'main-sequence-lower-boundary');
  drawLine(data, dwarfUpperBoundary, xC, yC, lineColor, 1.1, 'dwarf-upper-boundary');
  drawLine(data, overlapUpperBoundary, xC, yC, lineColor, 1.1, 'overlap-upper-boundary');
  drawLine(data, giantBoundary, xC, yC, lineColor, 1.1, 'giant-branch-boundary');
  drawLine(data, horizontalBoundary, xC, yC, lineColor, 1.1, 'magnitude-cut-boundary');
  drawLine(data, whiteDwarfBoundary, xC, yC, lineColor, 1.1, 'white-dwarf-boundary');

  drawErrorBar(root, xC, yC, 1.6);
  drawAxes(root, xC, yC, [168.3, 1181, 557.3, 1267.3], {
    minor: 8.5, major: 17, minorW: 1.2, majorW: 2, tickColor: '#333', spine: '#333', spineW: 1.8,
    font: 28.5, xLabelY: 1296, yLabelX: 161
  });
})();
</script>
</body>
</html>
